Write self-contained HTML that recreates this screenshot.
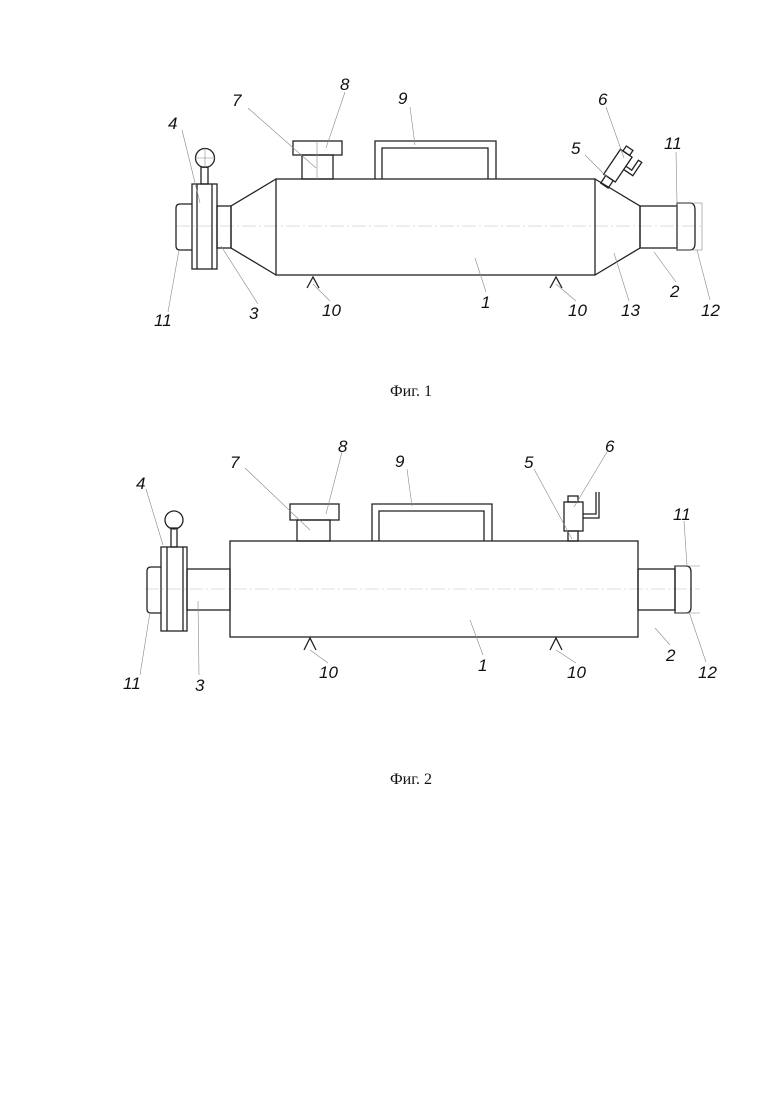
<!DOCTYPE html>
<html><head><meta charset="utf-8"><style>
html,body{margin:0;padding:0;background:#fff}
svg{display:block}
.l{fill:none;stroke:#222;stroke-width:1.3}
.t{fill:none;stroke:#888;stroke-width:0.6}
.c{fill:none;stroke:#bbb;stroke-width:0.6;stroke-dasharray:14 3 2 3}
.n{font-family:"Liberation Sans",sans-serif;font-style:italic;font-size:17px;fill:#111}
.cap{font-family:"Liberation Serif",serif;font-size:16px;fill:#111}
</style></head><body>
<svg width="780" height="1103" viewBox="0 0 780 1103" xmlns="http://www.w3.org/2000/svg">
<!-- FIG 1 -->
<line class="c" x1="176" y1="226" x2="702" y2="226"/>
<rect class="l" x="276" y="179" width="319" height="96"/>
<polyline class="l" points="276,179 231,206 231,248 276,275"/>
<polyline class="l" points="595,179 640,206 640,248 595,275"/>
<rect class="l" x="217" y="206" width="14" height="42"/>
<rect class="l" x="192" y="184" width="25" height="85"/>
<line class="l" x1="197" y1="184" x2="197" y2="269"/>
<line class="l" x1="212" y1="184" x2="212" y2="269"/>
<path class="l" d="M192,204 H180 Q176,204 176,208 V246 Q176,250 180,250 H192"/>
<rect class="l" x="201" y="167" width="7" height="17"/>
<circle class="l" cx="205" cy="158" r="9.5" fill="#fff"/>
<line class="t" x1="195" y1="158" x2="215" y2="158"/>
<line class="t" x1="205" y1="148" x2="205" y2="168"/>
<rect class="l" x="302" y="155" width="31" height="24"/>
<rect class="l" x="293" y="141" width="49" height="14"/>
<line class="t" x1="317" y1="141" x2="317" y2="179"/>
<path class="l" d="M375,179 V141 H496 V179 M382,179 V148 H488 V179"/>
<rect class="l" x="640" y="206" width="37" height="42"/>
<path class="l" d="M677,203 H690 Q695,203 695,210 V243 Q695,250 690,250 H677 Z"/>
<rect class="t" x="677" y="203" width="25" height="47"/>
<g transform="translate(619,164) rotate(-56)">
<rect class="l" x="10" y="-4.5" width="9" height="9" transform="translate(-36,0)"/>
<rect class="l" x="-17" y="-7" width="30" height="14"/>
<rect class="l" x="13" y="-4" width="6" height="8"/>
<path class="l" d="M-2,7 L-2,18 L14,18 L14,14 L2,14 L2,7"/>
</g>
<path class="l" d="M307,288 L313,277 L319,288 M550,288 L556,277 L562,288"/>
<!-- leaders fig1 -->
<path class="t" d="M248,108 L316,168 M345,92 L326,148 M410,107 L415,145 M606,107 L624,158 M585,155 L608,178 M676,152 L677,203 M182,130 L200,203 M168,312 L179,250 M258,304 L221,246 M330,301 L313,284 M486,292 L475,258 M576,301 L556,284 M629,301 L614,253 M676,282 L654,252 M710,300 L697,250"/>
<text class="n" x="340" y="90">8</text>
<text class="n" x="232" y="106">7</text>
<text class="n" x="398" y="104">9</text>
<text class="n" x="598" y="105">6</text>
<text class="n" x="664" y="149">11</text>
<text class="n" x="168" y="129">4</text>
<text class="n" x="571" y="154">5</text>
<text class="n" x="154" y="326">11</text>
<text class="n" x="249" y="319">3</text>
<text class="n" x="322" y="316">10</text>
<text class="n" x="481" y="308">1</text>
<text class="n" x="568" y="316">10</text>
<text class="n" x="621" y="316">13</text>
<text class="n" x="670" y="297">2</text>
<text class="n" x="701" y="316">12</text>
<text class="cap" x="390" y="396">Фиг. 1</text>
<!-- FIG 2 -->
<line class="c" x1="145" y1="589" x2="700" y2="589"/>
<rect class="l" x="230" y="541" width="408" height="96"/>
<rect class="l" x="187" y="569" width="43" height="41"/>
<rect class="l" x="161" y="547" width="26" height="84"/>
<line class="l" x1="167" y1="547" x2="167" y2="631"/>
<line class="l" x1="183" y1="547" x2="183" y2="631"/>
<path class="l" d="M161,567 H151 Q147,567 147,571 V609 Q147,613 151,613 H161"/>
<rect class="l" x="171" y="528" width="6" height="19"/>
<circle class="l" cx="174" cy="520" r="9" fill="#fff"/>
<rect class="l" x="297" y="520" width="33" height="21"/>
<rect class="l" x="290" y="504" width="49" height="16"/>
<path class="l" d="M372,541 V504 H492 V541 M379,541 V511 H484 V541"/>
<rect class="l" x="568" y="531" width="10" height="10"/>
<rect class="l" x="564" y="502" width="19" height="29"/>
<rect class="l" x="568" y="496" width="10" height="6"/>
<path class="l" d="M583,514 H596 V492 M583,518 H599 V492"/>
<rect class="l" x="638" y="569" width="37" height="41"/>
<path class="l" d="M675,566 H686 Q691,566 691,572 V607 Q691,613 686,613 H675 Z"/>
<line class="t" x1="675" y1="566" x2="700" y2="566"/>
<line class="t" x1="675" y1="613" x2="700" y2="613"/>
<path class="l" d="M304,650 L310,638 L316,650 M550,650 L556,638 L562,650"/>
<path class="t" d="M245,468 L310,530 M342,452 L326,514 M407,469 L412,506 M607,452 L574,507 M534,469 L572,539 M684,521 L687,566 M146,489 L163,545 M140,675 L150,612 M199,675 L198,601 M328,663 L310,650 M483,655 L470,620 M576,663 L556,650 M670,645 L655,628 M706,662 L689,612"/>
<text class="n" x="338" y="452">8</text>
<text class="n" x="230" y="468">7</text>
<text class="n" x="395" y="467">9</text>
<text class="n" x="524" y="468">5</text>
<text class="n" x="605" y="452">6</text>
<text class="n" x="136" y="489">4</text>
<text class="n" x="673" y="520">11</text>
<text class="n" x="123" y="689">11</text>
<text class="n" x="195" y="691">3</text>
<text class="n" x="319" y="678">10</text>
<text class="n" x="478" y="671">1</text>
<text class="n" x="567" y="678">10</text>
<text class="n" x="666" y="661">2</text>
<text class="n" x="698" y="678">12</text>
<text class="cap" x="390" y="784">Фиг. 2</text>
</svg>
</body></html>
